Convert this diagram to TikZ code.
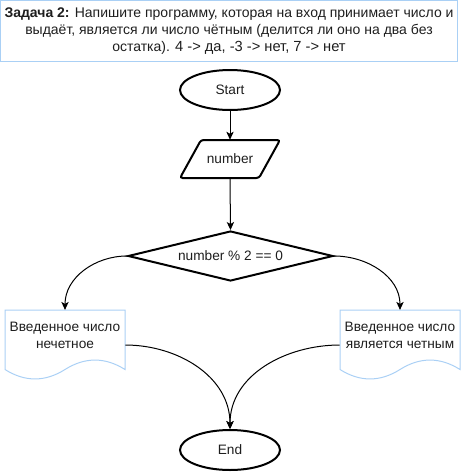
\documentclass[tikz,border=0pt]{standalone}
\usepackage{fontspec}
\setmainfont{Liberation Sans}
\usetikzlibrary{shapes.geometric,arrows.meta}
\definecolor{docblue}{RGB}{170,208,245}
\definecolor{txt}{RGB}{30,30,30}
\begin{document}
\begin{tikzpicture}[x=0.75pt,y=-0.75pt,
  txtfont/.style={font=\fontsize{10.25}{12.75}\selectfont, text=txt},
  term/.style={ellipse, draw, line width=1.5pt, minimum width=75pt, minimum height=30pt, inner sep=0pt, txtfont},
  decision/.style={diamond, draw, line width=1.5pt, aspect=4, minimum width=153.75pt, minimum height=37.5pt, inner sep=0pt, txtfont},
  iobox/.style={rectangle, minimum width=75pt, minimum height=28.5pt, inner sep=0pt, txtfont},
  iooutline/.style={draw, line width=1.5pt, rounded corners=2pt},
  docbox/.style={rectangle, minimum width=90pt, minimum height=38pt, inner sep=0pt, align=center, txtfont},
  docoutline/.style={draw=docblue, line width=0.75pt},
  titlebox/.style={rectangle, draw=docblue, line width=0.75pt, minimum width=342.75pt, minimum height=45.75pt, inner sep=0pt, align=center, font=\fontsize{10.5}{12.75}\selectfont, text=txt},
  flow/.style={line width=0.75pt, -{Stealth[length=6pt,width=5.5pt,inset=1.5pt]}}
]
\useasboundingbox (0,0) rectangle (461,472);

% title
\node[titlebox] (title) at (229,31) {\textbf{Задача 2:} Напишите программу, которая на вход принимает число и\\
выдаёт, является ли число чётным (делится ли оно на два без\\
остатка). {\fontsize{11}{12.75}\selectfont 4 -> да, -3 -> нет, 7 -> нет}};

% start
\node[term] (start) at (230,90) {Start};

% input parallelogram
\draw[iooutline] (201,140) -- (280,140) -- (259,178) -- (180,178) -- cycle;
\node[iobox] (num) at (230,159) {number};

% decision
\node[decision] (cond) at (230.5,256) {number \% 2 == 0};

% documents
\draw[docoutline] (5,310) -- (125,310) -- (125,369.5)
  .. controls (105,356.9) and (85,356.9) .. (65,369.5)
  .. controls (45,382.1) and (25,382.1) .. (5,369.5) -- cycle;
\node[docbox] (odd) at (65,335.5) {Введенное число\\нечетное};

\draw[docoutline] (340,310) -- (460,310) -- (460,369.5)
  .. controls (440,356.9) and (420,356.9) .. (400,369.5)
  .. controls (380,382.1) and (360,382.1) .. (340,369.5) -- cycle;
\node[docbox] (even) at (400,335.5) {Введенное число\\является четным};

% end
\node[term] (end) at (230,450) {End};

% connectors
\draw[flow] (start.south) -- (num.north);
\draw[flow] (num.south) -- (cond.north);
\draw[flow] (cond.west) to[out=180,in=90] (odd.north);
\draw[flow] (cond.east) to[out=0,in=90] (even.north);
\draw[flow] ([yshift=-7.125pt]odd.east) to[out=0,in=90] (end.north);
\draw[flow] ([yshift=-7.125pt]even.west) to[out=180,in=90] (end.north);
\end{tikzpicture}
\end{document}
